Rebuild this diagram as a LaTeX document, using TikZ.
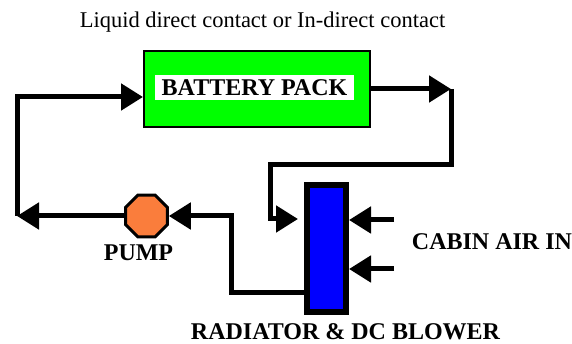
\documentclass[tikz,border=0pt]{standalone}
\usepackage{fontspec}
\setmainfont{Liberation Serif}
\usetikzlibrary{arrows.meta, shapes.geometric, positioning}
\definecolor{pumporange}{RGB}{250,125,60}

\begin{document}
\begin{tikzpicture}[
    x=1pt, y=-1pt,
    every node/.style={font=\fontsize{24}{28}\selectfont\bfseries},
    header/.style={font=\fontsize{22.5}{26}\selectfont, anchor=base},
    caption/.style={anchor=base},
    pipe/.style={line width=5pt, line join=miter},
    flow/.style={pipe, -{Triangle[length=22pt, width=26pt]}},
    packbox/.style={draw, line width=2pt, fill=green, minimum width=226pt, minimum height=76pt},
    packtag/.style={fill=white, inner sep=0pt, minimum width=199pt, minimum height=25pt},
    radbox/.style={draw, line width=6pt, fill=blue, minimum width=39pt, minimum height=127pt},
    pumpbox/.style={draw, line width=3pt, fill=pumporange, regular polygon, regular polygon sides=8, minimum size=45pt, inner sep=0pt}
]

    \useasboundingbox (0,0) rectangle (572,344);

    % --- components ---
    \node[header] (title) at (262.5,28) {Liquid direct contact or In-direct contact};
    \node[packbox] (pack) at (257,89) {};
    \node[packtag] (packtag) at (254.5,87.5) {BATTERY PACK};
    \node[radbox] (rad) at (326.5,248.5) {};
    \node[pumpbox] (pump) at (146.5,216) {};

    \node[caption] (pumptext) at (138.5,261) {PUMP};
    \node[caption] (airtext) at (492,250) {CABIN AIR IN};
    \node[caption] (radtext) at (345.5,339) {RADIATOR \& DC BLOWER};

    % --- pipe corners ---
    \coordinate (lb) at (17,216);
    \coordinate (lt) at (17,97);
    \coordinate (rt) at (451,89);
    \coordinate (rb) at (451,165);
    \coordinate (ib) at (270,165);
    \coordinate (it) at (270,219);
    \coordinate (ob) at (231,292);
    \coordinate (air1) at (394,220);
    \coordinate (air2) at (394,269);

    % --- coolant loop ---
    \draw[flow] (pump.west) -- (lb);
    \draw[flow] (lb) -- (lt) -- (pack.west |- lt);
    \draw[flow] (pack.east) -- (rt);
    \draw[flow, shorten >=6pt] (rt) -- (rb) -- (ib) -- (it) -- (rad.west |- it);
    \draw[flow] (rad.west |- ob) -- (ob) -- (ob |- pump.east) -- (pump.east);

    % --- cabin air ---
    \draw[flow] (air1) -- (rad.east |- air1);
    \draw[flow] (air2) -- (rad.east |- air2);

\end{tikzpicture}
\end{document}
